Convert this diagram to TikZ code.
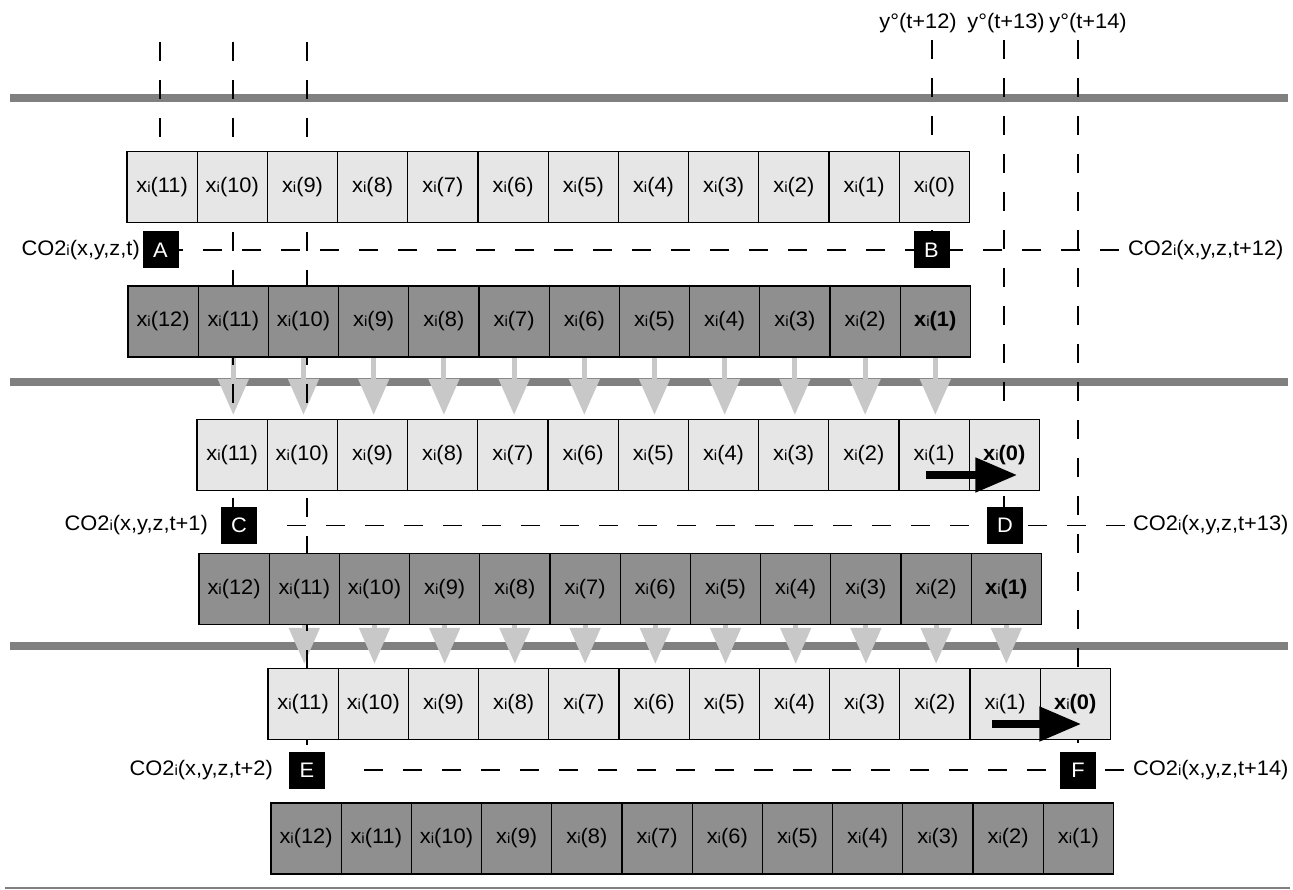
\documentclass[tikz,border=0pt]{standalone}
\usepackage{fontspec}
\setmainfont[FakeStretch=1.04]{Liberation Sans}
\usetikzlibrary{arrows.meta,calc}
\definecolor{cellLight}{HTML}{E6E6E6}
\definecolor{cellDark}{HTML}{8F8F8F}
\definecolor{barGray}{HTML}{808080}
\definecolor{arrowGray}{HTML}{C8C8C8}
\newcommand\subi{{\fontsize{14.5}{14.5}\selectfont i}}
\newcommand\xc[1]{x\subi(#1)}
\newcommand\xbold[1]{\textbf{x}\subi\textbf{(#1)}}
\newcommand\co[1]{CO2\subi(x,y,z,#1)}
\pgfdeclarelayer{back}
\pgfdeclarelayer{mid}
\pgfsetlayers{back,mid,main}

\begin{document}
\begin{tikzpicture}[x=1pt,y=-1pt,
  every node/.style={font=\fontsize{21}{25}\selectfont},
  cell/.style={draw=black,line width=1.3pt,minimum width=70.2pt,minimum height=71pt,inner sep=0pt},
  lightcell/.style={cell,fill=cellLight},
  darkcell/.style={cell,fill=cellDark},
  tagbox/.style={fill=black,text=white,minimum width=36pt,minimum height=37pt,inner sep=0pt},
  lbl/.style={inner sep=0pt},
  rail/.style={draw=barGray,line width=8pt},
  vguide/.style={draw=black,line width=1.2pt,dash pattern=on 19pt off 19pt},
  hguide/.style={draw=black,line width=1.2pt,dash pattern=on 19pt off 20pt},
  dropArrow/.style={draw=arrowGray,line width=5pt,-{Triangle[width=30pt,length=36pt]}},
  carryArrow/.style={draw=black,line width=8pt,-{Triangle[width=33pt,length=42pt]}}]

\useasboundingbox (0,0) rectangle (1293,890);

% ---- register rows: light = state before shift, dark = state after shift
\foreach \k in {1,...,11} {
  \pgfmathtruncatemacro\n{12-\k}
  \pgfmathtruncatemacro\m{13-\k}
  \node[lightcell] (la\k) at ({127+70.2*(\k-0.5)},187.3) {\xc{\n}};
  \node[darkcell]  (da\k) at ({128+70.2*(\k-0.5)},321.5) {\xc{\m}};
  \node[lightcell] (lb\k) at ({197+70.2*(\k-0.5)},455)   {\xc{\n}};
  \node[darkcell]  (db\k) at ({199+70.2*(\k-0.5)},589)   {\xc{\m}};
  \node[lightcell] (lc\k) at ({268+70.2*(\k-0.5)},704)   {\xc{\n}};
  \node[darkcell]  (dc\k) at ({271+70.2*(\k-0.5)},838.5) {\xc{\m}};
}
\node[lightcell] (la12) at ({127+70.2*11.5},187.3) {\xc{0}};
\node[darkcell]  (da12) at ({128+70.2*11.5},321.5) {\xbold{1}};
\node[lightcell] (lb12) at ({197+70.2*11.5},455)   {\xbold{0}};
\node[darkcell]  (db12) at ({199+70.2*11.5},589)   {\xbold{1}};
\node[lightcell] (lc12) at ({268+70.2*11.5},704)   {\xbold{0}};
\node[darkcell]  (dc12) at ({271+70.2*11.5},838.5) {\xc{1}};

% ---- position markers
\node[tagbox] (A) at (160.5,250) {A};
\node[tagbox] (B) at (931.5,250) {B};
\node[tagbox] (C) at (239,525.5) {C};
\node[tagbox] (D) at (1005,525.5) {D};
\node[tagbox] (E) at (307,770) {E};
\node[tagbox] (F) at (1078,770) {F};

% ---- concentration labels
\node[lbl,anchor=east] (l1) at (140,250) {\co{t}};
\node[lbl,anchor=east] (l2) at (208,525.5) {\co{t+1}};
\node[lbl,anchor=east] (l3) at (273,770) {\co{t+2}};
\node[lbl,anchor=west] (r1) at (1128,250) {\co{t+12}};
\node[lbl,anchor=west] (r2) at (1133,525.5) {\co{t+13}};
\node[lbl,anchor=west] (r3) at (1133,770) {\co{t+14}};

% ---- output labels
\node[lbl] (t1) at (918,23) {y°(t+12)};
\node[lbl] (t2) at (1006,23) {y°(t+13)};
\node[lbl] (t3) at (1088,23) {y°(t+14)};

% ---- guide line origins
\coordinate (g1) at (160,42);
\coordinate (g2) at (233,42);
\coordinate (g3) at (307,42);
\coordinate (g4) at (932,40);
\coordinate (g5) at (1004,40);
\coordinate (g6) at (1078,40);

% ---- time step separators
\begin{pgfonlayer}{back}
  \draw[rail] (10,98) -- (1288,98);
  \draw[rail] (10,382) -- (1288,382);
  \draw[rail] (10,645.5) -- (1288,645.5);
  \draw[barGray,line width=2pt] (5,888) -- (1290,888);
\end{pgfonlayer}

\begin{pgfonlayer}{mid}
  % register shift arrows
  \foreach \k in {2,...,12} {
    \pgfmathtruncatemacro\j{\k-1}
    \draw[dropArrow,shorten >=4pt] (da\k.south) -- (da\k.south |- lb\j.north);
    \draw[dropArrow,shorten >=4pt] (db\k.south) -- (db\k.south |- lc\j.north);
  }
  % vertical guides
  \draw[vguide] (g1) -- (g1 |- A.north);
  \draw[vguide] (g2) -- (g2 |- C.north);
  \draw[vguide] (g3) -- (g3 |- E.north);
  \draw[vguide] (g4) -- (g4 |- B.north);
  \draw[vguide] (g5) -- (g5 |- D.north);
  \draw[vguide] (g6) -- (g6 |- F.north);
  % horizontal guides
  \draw[hguide,shorten <=9pt] (r1.west) -- (A.east);
  \draw[hguide,shorten <=8pt,shorten >=14pt] (r2.west) -- (C.east);
  \draw[hguide,shorten <=9pt,shorten >=20pt] (r3.west) -- (E.east);
\end{pgfonlayer}

% ---- carry-over arrows
\draw[carryArrow] ($(lb11.center)+(-8,20)$) -- ($(lb12.center)+(13,20)$);
\draw[carryArrow] ($(lc11.center)+(-13,20)$) -- ($(lc12.center)+(6,20)$);

\end{tikzpicture}
\end{document}
